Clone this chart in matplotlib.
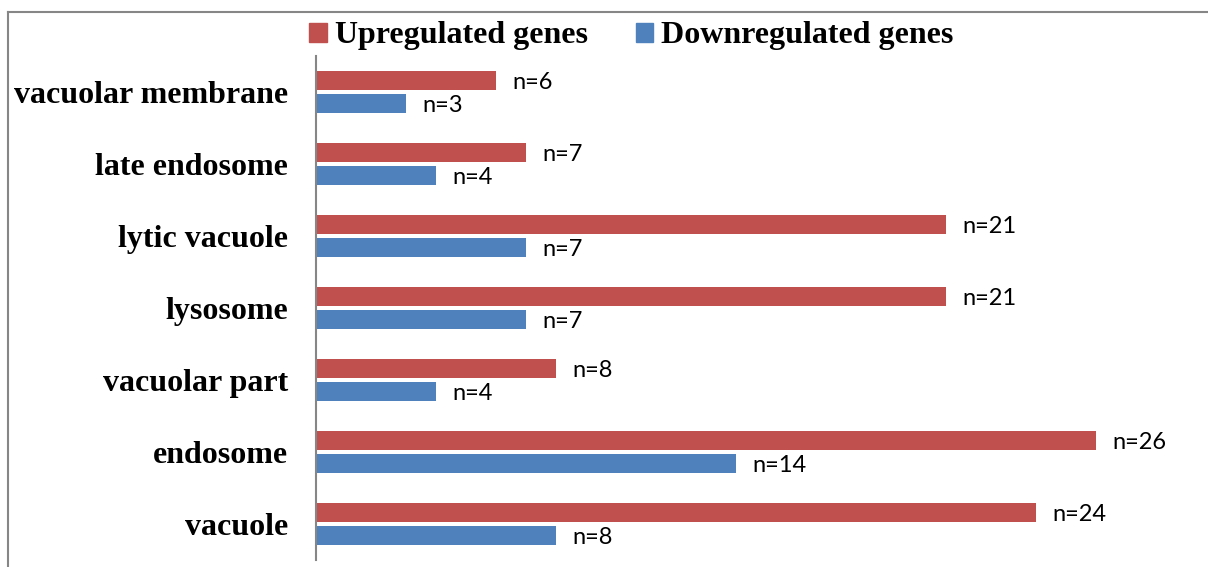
import matplotlib.pyplot as plt
import matplotlib.patches as mpatches
from matplotlib.lines import Line2D
import numpy as np

categories = ["vacuole", "endosome", "vacuolar part", "lysosome",
              "lytic vacuole", "late endosome", "vacuolar membrane"]
upregulated = [24, 26, 8, 21, 21, 7, 6]
downregulated = [8, 14, 4, 7, 7, 4, 3]

UP_COLOR = "#C0504D"
DOWN_COLOR = "#4F81BD"

fig = plt.figure(figsize=(12.08, 5.67), dpi=100)
ax = fig.add_axes([316 / 1208, 7 / 567, 1 - 316 / 1208, 504 / 567])

y = np.arange(len(categories))
bar_h = 0.265
offset = 0.165

ax.barh(y + offset, upregulated, height=bar_h, color=UP_COLOR)
ax.barh(y - offset, downregulated, height=bar_h, color=DOWN_COLOR)

# value labels to the right of each bar
for yi, v in zip(y, upregulated):
    ax.annotate(f"n={v}", (v, yi + offset), xytext=(12, -1.5), textcoords="offset points",
                va="center", ha="left", fontsize=17, family="Lato")
for yi, v in zip(y, downregulated):
    ax.annotate(f"n={v}", (v, yi - offset), xytext=(12, -1.5), textcoords="offset points",
                va="center", ha="left", fontsize=17, family="Lato")

ax.set_xlim(0, (1208 - 316) / 30)
ax.set_ylim(-0.5, len(categories) - 0.5)
ax.set_yticks(y)
ax.set_yticklabels(categories, family="Liberation Serif", weight="bold", fontsize=23)
ax.tick_params(axis="y", length=0, pad=20)
ax.set_xticks([])
for side in ["top", "right", "bottom"]:
    ax.spines[side].set_visible(False)
ax.spines["left"].set_color("#868686")
ax.spines["left"].set_linewidth(1.5)

# outer frame of the chart area
fig.add_artist(Line2D([8 / 1208, 1], [1 - 12 / 567, 1 - 12 / 567], color="#868686", lw=1.5,
                      transform=fig.transFigure))
fig.add_artist(Line2D([8 / 1208, 8 / 1208], [0, 1 - 12 / 567], color="#868686", lw=1.5,
                      transform=fig.transFigure))

up_patch = mpatches.Patch(color=UP_COLOR, label="Upregulated genes")
down_patch = mpatches.Patch(color=DOWN_COLOR, label="Downregulated genes")
fig.legend(handles=[up_patch, down_patch], loc="center", bbox_to_anchor=(0.5228, 1 - 36 / 567),
           ncol=2, frameon=False, prop={"family": "Liberation Serif", "weight": "bold", "size": 23},
           handlelength=0.55, handleheight=0.55, handletextpad=0.25, columnspacing=1.5,
           borderpad=0, borderaxespad=0)

fig.savefig("out.png", dpi=100)
